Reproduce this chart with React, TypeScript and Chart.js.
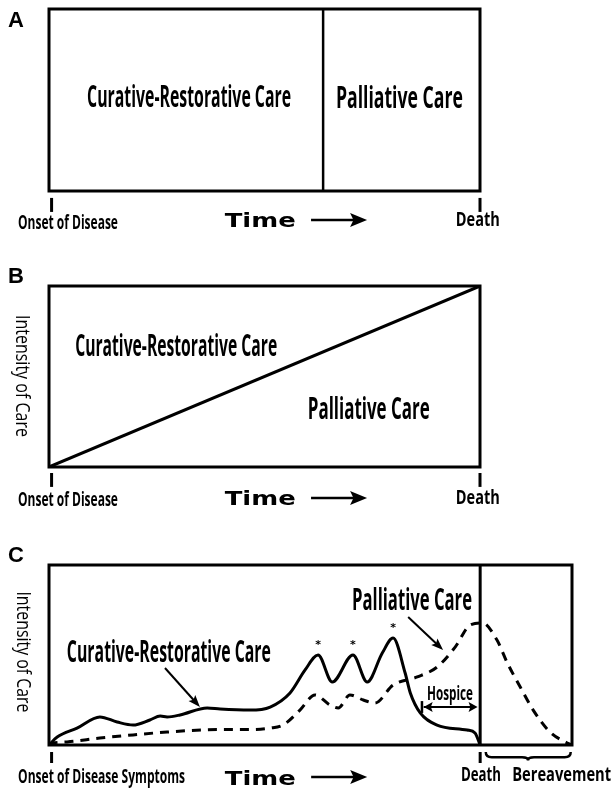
import React, { useEffect, useRef } from "react";
import { Chart, registerables } from "chart.js";
Chart.register(...registerables);

// ---------- data (time: 0 = onset, 100 = death; intensity 0..100) ----------
const DIVIDER_X = [63.6, 63.6];
const DIVIDER_Y = [0, 100];

const DIAG_X = [0, 100];
const DIAG_Y = [0, 100];

const DEATH_X = [100, 100];
const DEATH_Y = [0, 100];

const CURATIVE_X = [0, 1.9, 6.5, 11.8, 15.8, 19.5, 23.4, 25.8, 27.4, 30.4, 36.7, 39.7, 46.6, 51.3, 55.9, 59.4, 62.4, 65.7, 70.5, 73.8, 77.3, 79.8, 82.6, 83.8, 86.1, 90.0, 97.0, 98.8, 100];
const CURATIVE_Y = [0, 4.4, 9.4, 15.6, 12.8, 11.1, 13.9, 16.1, 15.6, 16.7, 20.6, 20.0, 19.4, 21.1, 28.9, 41.7, 50.0, 35.0, 50.0, 35.0, 51.1, 59.4, 40.0, 28.9, 17.8, 11.1, 8.3, 6.7, 0];

const PALLIATIVE_X = [0, 0.9, 4.2, 11.8, 19.5, 27.4, 39.7, 46.6, 51.3, 54.3, 58.2, 61.7, 65.2, 67.1, 69.8, 72.9, 75.6, 79.8, 85.4, 90.0, 94.2, 97.7, 100.5, 103.9, 106.3, 109.3, 112.3, 116.2, 120.2, 121.3];
const PALLIATIVE_Y = [0, 1.1, 1.7, 3.9, 5.6, 7.2, 8.6, 8.6, 9.4, 11.1, 19.4, 27.8, 22.2, 20.6, 27.8, 25.0, 23.3, 33.3, 37.8, 43.3, 54.4, 66.7, 67.8, 58.3, 45.6, 32.2, 19.4, 7.2, 1.1, 0];

const ASTERISK_X = [62.4, 70.5, 79.8];
const ASTERISK_Y = [53.9, 53.9, 63.3];

const TICK_X = [0.6, 100];

const LBL_CURATIVE = "Curative-Restorative Care";
const LBL_PALLIATIVE = "Palliative Care";
const LBL_ONSET = "Onset of Disease";
const LBL_ONSET_SYM = "Onset of Disease Symptoms";
const LBL_TIME = "Time";
const LBL_DEATH = "Death";
const LBL_BEREAVEMENT = "Bereavement";
const LBL_HOSPICE = "Hospice";
const LBL_YAXIS = "Intensity of Care";

// ---------- styles ----------
const BOLD = "bold 31px 'Open Sans'";
const SMALL = "bold 20px 'Open Sans'";
const TIMEF = "bold 20px 'DejaVu Sans'";
const PANELF = "bold 22px 'Liberation Sans'";
const YF = "400 20px 'Open Sans'";

const pts = (xs: number[], ys: number[]) => xs.map((x, i) => ({ x, y: ys[i] }));

type Ann = any;

function drawHead(ctx: CanvasRenderingContext2D, x: number, y: number, ang: number, len: number, half: number) {
  ctx.save();
  ctx.translate(x, y);
  ctx.rotate(ang);
  ctx.beginPath();
  ctx.moveTo(0, 0);
  ctx.lineTo(-len, -half);
  ctx.lineTo(-len * 0.8, 0);
  ctx.lineTo(-len, half);
  ctx.closePath();
  ctx.fill();
  ctx.restore();
}

const decorPlugin = {
  id: "decor",
  afterDatasetsDraw(chart: any, _a: any, opts: any) {
    const { ctx, chartArea: a, scales } = chart;
    const X = (v: number) => scales.x.getPixelForValue(v);
    const Y = (v: number) => scales.y.getPixelForValue(v);
    ctx.save();
    ctx.strokeStyle = "#000";
    ctx.fillStyle = "#000";
    ctx.lineWidth = 3;
    ctx.strokeRect(a.left, a.top, a.right - a.left, a.bottom - a.top);
    for (const an of (opts.items || []) as Ann[]) {
      if (an.kind === "text") {
        ctx.save();
        ctx.font = an.font;
        const m = ctx.measureText(an.text).width;
        const sx = an.w ? an.w / m : 1;
        ctx.translate(X(an.x), Y(an.y));
        if (an.rotate) ctx.rotate(an.rotate);
        ctx.scale(sx, 1);
        ctx.textAlign = an.align || "center";
        ctx.textBaseline = an.rotate ? "middle" : "alphabetic";
        ctx.fillText(an.text, 0, 0);
        ctx.restore();
      } else if (an.kind === "line") {
        ctx.save();
        ctx.lineWidth = an.lw || 3;
        ctx.beginPath();
        ctx.moveTo(X(an.x1), Y(an.y1));
        ctx.lineTo(X(an.x2), Y(an.y2));
        ctx.stroke();
        ctx.restore();
      } else if (an.kind === "arrow") {
        const x1 = X(an.x1), y1 = Y(an.y1), x2 = X(an.x2), y2 = Y(an.y2);
        const ang = Math.atan2(y2 - y1, x2 - x1);
        ctx.save();
        ctx.lineWidth = an.lw || 2;
        ctx.beginPath();
        ctx.moveTo(x1, y1);
        ctx.lineTo(x2 - Math.cos(ang) * an.head * 0.7, y2 - Math.sin(ang) * an.head * 0.7);
        ctx.stroke();
        drawHead(ctx, x2, y2, ang, an.head, an.half);
        if (an.both) drawHead(ctx, x1, y1, ang + Math.PI, an.head, an.half);
        ctx.restore();
      } else if (an.kind === "brace") {
        const x1 = X(an.x1), x2 = X(an.x2), xm = X(an.xm);
        const yt = Y(an.yTop), yb = Y(an.yBot);
        const ym = (yt + yb) / 2 + 1;
        const r = 6;
        ctx.save();
        ctx.lineWidth = 2.5;
        ctx.beginPath();
        ctx.moveTo(x1, yt);
        ctx.quadraticCurveTo(x1, ym, x1 + r, ym);
        ctx.lineTo(xm - r, ym);
        ctx.quadraticCurveTo(xm, ym, xm, yb);
        ctx.quadraticCurveTo(xm, ym, xm + r, ym);
        ctx.lineTo(x2 - r, ym);
        ctx.quadraticCurveTo(x2, ym, x2, yt);
        ctx.stroke();
        ctx.restore();
      }
    }
    ctx.restore();
  },
};

function baseConfig(datasets: any[], items: Ann[], xMax: number, padding: any) {
  return {
    type: "line",
    data: { datasets },
    options: {
      animation: false,
      responsive: false,
      maintainAspectRatio: false,
      layout: { padding },
      scales: {
        x: { type: "linear", min: 0, max: xMax, display: false },
        y: { type: "linear", min: 0, max: 100, display: false },
      },
      elements: { point: { radius: 0 } },
      plugins: { legend: { display: false }, tooltip: { enabled: false }, decor: { items } },
    },
    plugins: [decorPlugin],
  };
}

const tickItems = (yTop: number, yBot: number) =>
  TICK_X.map((x) => ({ kind: "line", x1: x, y1: yTop, x2: x, y2: yBot, lw: 3 }));

const timeItems = (yText: number, yArrow: number) => [
  { kind: "text", text: LBL_TIME, x: 49.0, y: yText, w: 71, font: TIMEF },
  { kind: "arrow", x1: 60.8, y1: yArrow, x2: 73.8, y2: yArrow, lw: 2.5, head: 17, half: 7 },
];

function configA() {
  const ds = [
    { data: pts(DIVIDER_X, DIVIDER_Y), borderColor: "#000", borderWidth: 2.5 },
  ];
  const items = [
    { kind: "text", text: "A", x: -9.5, y: 90.1, font: PANELF, align: "left" },
    { kind: "text", text: LBL_CURATIVE, x: 32.5, y: 46.2, w: 204, font: BOLD },
    { kind: "text", text: LBL_PALLIATIVE, x: 81.3, y: 45.6, w: 127, font: BOLD },
    ...tickItems(-3.8, -11.5),
    { kind: "text", text: LBL_ONSET, x: 4.4, y: -20.9, w: 100, font: SMALL },
    ...timeItems(-19.8, -15.9),
    { kind: "text", text: LBL_DEATH, x: 99.5, y: -19.5, w: 44, font: SMALL },
  ];
  return baseConfig(ds, items, 100, { left: 49, right: 133, top: 9, bottom: 59 });
}

function configB() {
  const ds = [{ data: pts(DIAG_X, DIAG_Y), borderColor: "#000", borderWidth: 3 }];
  const items = [
    { kind: "text", text: "B", x: -9.5, y: 101.7, font: PANELF, align: "left" },
    { kind: "text", text: LBL_YAXIS, x: -6.3, y: 50.3, w: 122, font: YF, rotate: Math.PI / 2 },
    { kind: "text", text: LBL_CURATIVE, x: 29.5, y: 61.3, w: 202, font: BOLD },
    { kind: "text", text: LBL_PALLIATIVE, x: 74.2, y: 26.5, w: 122, font: BOLD },
    ...tickItems(-3.3, -11.0),
    { kind: "text", text: LBL_ONSET, x: 4.4, y: -21.8, w: 100, font: SMALL },
    ...timeItems(-21.0, -17.1),
    { kind: "text", text: LBL_DEATH, x: 99.5, y: -20.5, w: 44, font: SMALL },
  ];
  return baseConfig(ds, items, 100, { left: 49, right: 133, top: 36, bottom: 53 });
}

function configC() {
  const ds = [
    { data: pts(DEATH_X, DEATH_Y), borderColor: "#000", borderWidth: 3 },
    {
      data: pts(CURATIVE_X, CURATIVE_Y),
      borderColor: "#000",
      borderWidth: 3,
      cubicInterpolationMode: "monotone",
    },
    {
      data: pts(PALLIATIVE_X, PALLIATIVE_Y),
      borderColor: "#000",
      borderWidth: 3,
      borderDash: [9, 7],
      cubicInterpolationMode: "monotone",
    },
  ];
  const items: Ann[] = [
    { kind: "text", text: "C", x: -9.5, y: 101.7, font: PANELF, align: "left" },
    { kind: "text", text: LBL_YAXIS, x: -6.0, y: 51.7, w: 121, font: YF, rotate: Math.PI / 2 },
    { kind: "text", text: LBL_CURATIVE, x: 27.8, y: 46.1, w: 204, font: BOLD },
    { kind: "arrow", x1: 26.9, y1: 42.8, x2: 35.0, y2: 21.1, lw: 2, head: 12, half: 4.5 },
    { kind: "text", text: LBL_PALLIATIVE, x: 84.2, y: 75.0, w: 120, font: BOLD },
    { kind: "arrow", x1: 83.3, y1: 71.1, x2: 91.4, y2: 52.8, lw: 2, head: 12, half: 4.5 },
    ...ASTERISK_X.map((x, i) => ({ kind: "text", text: "*", x, y: ASTERISK_Y[i], font: "bold 11px 'DejaVu Sans'" })),
    { kind: "text", text: LBL_HOSPICE, x: 93.0, y: 25.0, w: 46, font: "bold 20px 'Open Sans'" },
    { kind: "line", x1: 86.5, y1: 17.8, x2: 86.5, y2: 24.4, lw: 2.5 },
    { kind: "arrow", x1: 86.9, y1: 21.1, x2: 99.4, y2: 21.1, lw: 2, head: 9, half: 5, both: true },
    ...tickItems(-3.9, -10.0),
    { kind: "brace", x1: 101.3, x2: 121.0, xm: 111.1, yTop: -3.9, yBot: -8.6 },
    { kind: "text", text: LBL_ONSET_SYM, x: 12.2, y: -21.1, w: 167, font: SMALL },
    ...timeItems(-22.0, -17.8),
    { kind: "text", text: LBL_DEATH, x: 100.2, y: -20.2, w: 40, font: SMALL },
    { kind: "text", text: LBL_BEREAVEMENT, x: 118.9, y: -20.2, w: 99, font: SMALL },
  ];
  return baseConfig(ds, items, 121.3, { left: 49, right: 41, top: 45, bottom: 45 });
}

function Panel({ top, height, make }: { top: number; height: number; make: () => any }) {
  const ref = useRef<HTMLCanvasElement>(null);
  useEffect(() => {
    const chart = new Chart(ref.current as HTMLCanvasElement, make());
    return () => chart.destroy();
  }, []);
  return (
    <canvas
      ref={ref}
      width={613}
      height={height}
      style={{ position: "absolute", left: 0, top, width: 613, height, display: "block" }}
    />
  );
}

export default function App() {
  return (
    <div style={{ position: "absolute", left: 0, top: 0, width: 613, height: 790, background: "#fff" }}>
      <Panel top={0} height={250} make={configA} />
      <Panel top={250} height={270} make={configB} />
      <Panel top={520} height={270} make={configC} />
    </div>
  );
}
